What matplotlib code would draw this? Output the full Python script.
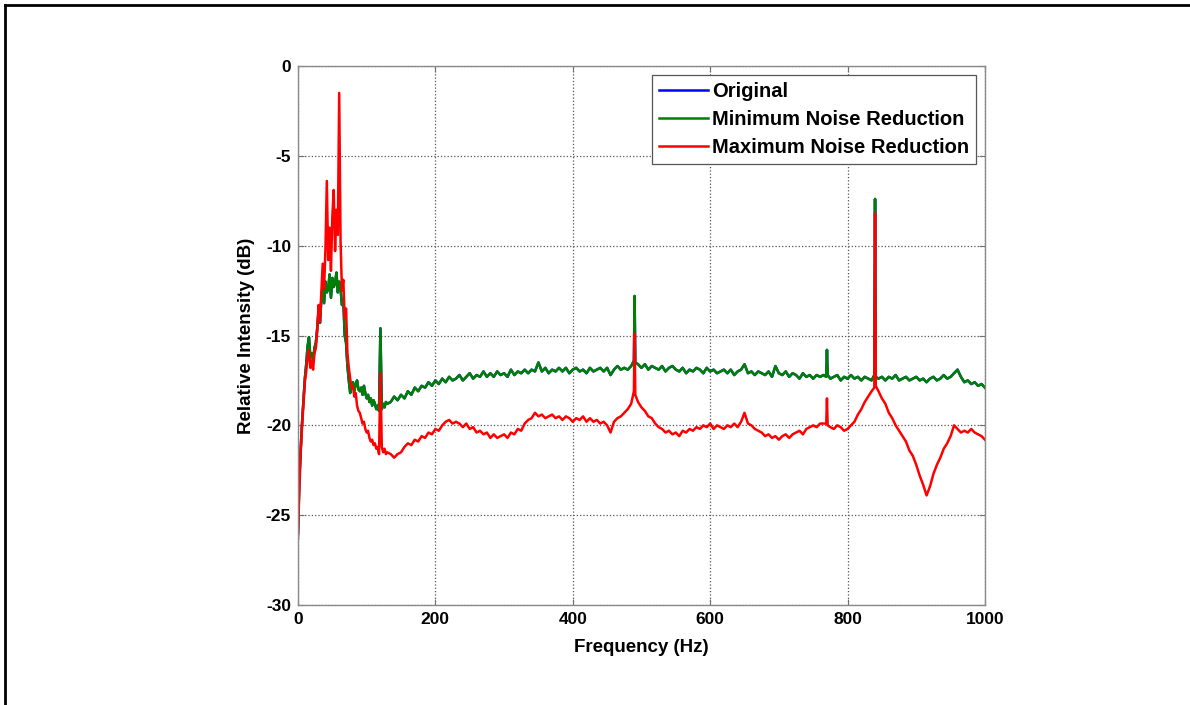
import matplotlib
matplotlib.use("Agg")
import matplotlib.pyplot as plt
from matplotlib.lines import Line2D
import numpy as np

plt.rcParams["font.family"] = ["Liberation Sans", "DejaVu Sans"]
plt.rcParams["axes.unicode_minus"] = False

# frequency grid (Hz): 2 Hz steps below 130 Hz, 5 Hz above, extra points at the hum spikes
freq_hz = np.r_[
    np.arange(0, 131, 2),
    np.arange(135, 486, 5), [489, 490, 491],
    np.arange(495, 766, 5), [769, 770, 771],
    np.arange(775, 836, 5), [839, 840, 841],
    np.arange(845, 1001, 5),
]

# Minimum noise reduction (dB)
min_nr_db = [
    # 0..130 Hz
    -26.0, -23.0, -21.3, -19.8, -18.6, -17.4, -16.6, -15.6, -15.1, -16.2,
    -16.0, -16.4, -15.7, -15.4, -14.6, -13.6, -14.3, -13.0, -12.2, -13.2,
    -12.0, -12.6, -12.4, -11.6, -12.9, -11.8, -12.3, -12.1, -11.5, -12.6,
    -12.0, -12.4, -13.3, -13.0, -15.0, -15.4, -16.7, -17.5, -18.2, -17.8,
    -17.6, -18.1, -17.7, -17.5, -18.0, -18.1, -17.9, -18.3, -17.8, -18.2,
    -18.5, -18.3, -18.7, -18.5, -18.9, -18.6, -18.8, -19.1, -18.9, -19.2,
    -14.6, -19.1, -18.8, -19.0, -18.7, -18.8,
    # 135..480 Hz
    -18.7, -18.4, -18.6, -18.3, -18.5, -18.1, -18.3, -17.9, -18.1, -17.8,
    -17.9, -17.6, -17.8, -17.5, -17.7, -17.4, -17.6, -17.3, -17.5, -17.4,
    -17.2, -17.5, -17.3, -17.1, -17.4, -17.2, -17.3, -17.0, -17.3, -17.1,
    -17.3, -17.0, -17.2, -17.1, -17.3, -16.9, -17.2, -17.0, -17.1, -16.9,
    -17.1, -16.9, -17.0, -16.5, -17.0, -16.8, -17.1, -16.9, -17.0, -16.8,
    -17.0, -16.8, -17.1, -16.9, -16.8, -17.0, -16.9, -17.1, -16.8, -17.0,
    -16.9, -16.8, -17.0, -16.8, -17.2, -16.9, -16.7, -16.9, -16.8, -16.9,
    # 485, 489, 490, 491, 495..520
    -16.7, -16.4, -12.8, -16.5, -16.6, -16.8, -16.6, -16.9, -16.7, -16.8,
    # 525..720
    -16.9, -16.7, -17.0, -16.8, -16.7, -16.9, -17.0, -16.8, -17.1, -16.9,
    -17.0, -16.8, -16.9, -17.1, -16.8, -17.0, -16.9, -17.1, -17.0, -16.9,
    -17.1, -16.9, -17.2, -17.0, -16.9, -16.6, -17.1, -17.0, -17.2, -17.0,
    -17.1, -17.2, -17.0, -17.3, -16.7, -17.1, -17.2, -17.0, -17.3, -17.1,
    # 725..765
    -17.2, -17.4, -17.1, -17.3, -17.2, -17.4, -17.2, -17.3, -17.2,
    # 769, 770, 771, 775..805
    -17.3, -15.8, -17.2, -17.4, -17.3, -17.2, -17.5, -17.3, -17.4, -17.2,
    # 810..835, 839, 840, 841, 845
    -17.4, -17.3, -17.5, -17.3, -17.4, -17.5, -17.2, -7.4, -17.3, -17.4,
    # 850..1000
    -17.3, -17.5, -17.3, -17.4, -17.2, -17.5, -17.4, -17.3, -17.5, -17.4,
    -17.3, -17.5, -17.4, -17.6, -17.4, -17.3, -17.5, -17.4, -17.2, -17.4,
    -17.3, -17.1, -16.9, -17.3, -17.6, -17.5, -17.7, -17.6, -17.8, -17.7,
    -17.9,
]

# Maximum noise reduction (dB)
max_nr_db = [
    # 0..130 Hz
    -26.3, -23.5, -21.5, -20.0, -18.8, -17.6, -17.0, -16.2, -15.8, -16.8,
    -16.4, -16.9, -16.0, -15.7, -14.8, -13.3, -14.2, -12.6, -11.0, -12.4,
    -10.2, -6.4, -10.8, -9.0, -11.4, -8.4, -6.9, -10.3, -8.0, -9.4,
    -1.5, -9.8, -12.5, -11.9, -14.0, -13.5, -16.0, -16.8, -17.4, -17.9,
    -17.8, -18.4, -18.2, -18.9, -19.2, -19.3, -19.6, -19.9, -19.8, -20.2,
    -20.4, -20.3, -20.7, -20.9, -20.8, -21.1, -21.0, -21.3, -21.2, -21.6,
    -17.1, -21.2, -21.5, -21.3, -21.6, -21.5,
    # 135..480 Hz
    -21.6, -21.8, -21.6, -21.5, -21.2, -21.0, -21.1, -20.8, -20.9, -20.6,
    -20.7, -20.4, -20.5, -20.2, -20.3, -20.0, -19.8, -19.7, -19.9, -19.8,
    -19.9, -20.1, -19.9, -20.2, -20.1, -20.4, -20.3, -20.5, -20.4, -20.7,
    -20.5, -20.7, -20.6, -20.5, -20.7, -20.4, -20.5, -20.2, -20.3, -19.9,
    -19.7, -19.6, -19.3, -19.5, -19.4, -19.6, -19.5, -19.4, -19.6, -19.5,
    -19.7, -19.5, -19.6, -19.8, -19.6, -19.7, -19.5, -19.8, -19.6, -19.8,
    -19.7, -19.9, -19.8, -20.0, -20.4, -19.8, -19.6, -19.5, -19.3, -19.1,
    # 485, 489, 490, 491, 495..520
    -18.8, -18.1, -14.9, -18.3, -18.7, -19.0, -19.2, -19.5, -19.6, -19.9,
    # 525..720
    -20.1, -20.2, -20.4, -20.3, -20.5, -20.4, -20.6, -20.3, -20.4, -20.2,
    -20.3, -20.1, -20.2, -20.0, -20.1, -19.9, -20.2, -20.0, -20.1, -20.2,
    -20.0, -20.1, -19.9, -20.1, -19.8, -19.3, -19.9, -20.0, -20.2, -20.3,
    -20.4, -20.6, -20.5, -20.7, -20.6, -20.8, -20.6, -20.5, -20.7, -20.5,
    # 725..765
    -20.4, -20.3, -20.5, -20.2, -20.1, -20.0, -20.1, -19.9, -19.9,
    # 769, 770, 771, 775..805
    -19.9, -18.5, -20.0, -20.1, -20.2, -20.0, -20.1, -20.3, -20.2, -20.0,
    # 810..835, 839, 840, 841, 845
    -19.8, -19.4, -19.1, -18.7, -18.4, -18.1, -17.9, -8.2, -17.8, -18.1,
    # 850..1000
    -18.5, -18.8, -19.3, -19.6, -20.0, -20.3, -20.6, -20.9, -21.4, -21.7,
    -22.2, -22.8, -23.3, -23.9, -23.4, -22.7, -22.2, -21.8, -21.3, -21.0,
    -20.6, -20.0, -20.2, -20.4, -20.3, -20.4, -20.2, -20.4, -20.5, -20.6,
    -20.8,
]

# the original spectrum lies under the minimum-reduction trace
original_db = min_nr_db

assert len(freq_hz) == len(min_nr_db) == len(max_nr_db)

fig = plt.figure(figsize=(11.9, 7.05), dpi=100)
ax = fig.add_axes([0.2504, 0.1418, 0.5773, 0.7646])

ax.plot(freq_hz, original_db, color="#0000ff", lw=1.8, label="Original")
ax.plot(freq_hz, min_nr_db, color="#008000", lw=1.8, label="Minimum Noise Reduction")
ax.plot(freq_hz, max_nr_db, color="#ff0000", lw=1.8, label="Maximum Noise Reduction")

ax.set_xlim(0, 1000)
ax.set_ylim(-30, 0)
ax.set_xticks(range(0, 1001, 200))
ax.set_yticks(range(-30, 1, 5))
ax.grid(True, linestyle=":", color="#555555", lw=0.9)
ax.tick_params(direction="in", length=4, top=True, right=True, color="#707070",
               labelsize=12.5, pad=5)
for lbl in ax.get_xticklabels() + ax.get_yticklabels():
    lbl.set_fontweight("bold")
for sp in ax.spines.values():
    sp.set_color("#8a8a8a")
    sp.set_linewidth(1.0)

ax.set_xlabel("Frequency (Hz)", fontsize=13.5, fontweight="bold", labelpad=9)
ax.set_ylabel("Relative Intensity (dB)", fontsize=13.5, fontweight="bold", labelpad=8)

leg = ax.legend(loc="upper right", prop={"weight": "bold", "size": 14.5},
                fancybox=False, framealpha=1, edgecolor="#555555",
                borderaxespad=0.45, handlelength=2.4, handletextpad=0.2,
                labelspacing=0.45, borderpad=0.35)
leg.get_frame().set_linewidth(0.9)

# page frame around the picture
fig.add_artist(Line2D([5 / 1190, 1], [1 - 5 / 705] * 2, transform=fig.transFigure,
                      color="black", lw=2))
fig.add_artist(Line2D([5 / 1190] * 2, [0, 1 - 5 / 705], transform=fig.transFigure,
                      color="black", lw=2))

fig.savefig("out.png", dpi=100)
